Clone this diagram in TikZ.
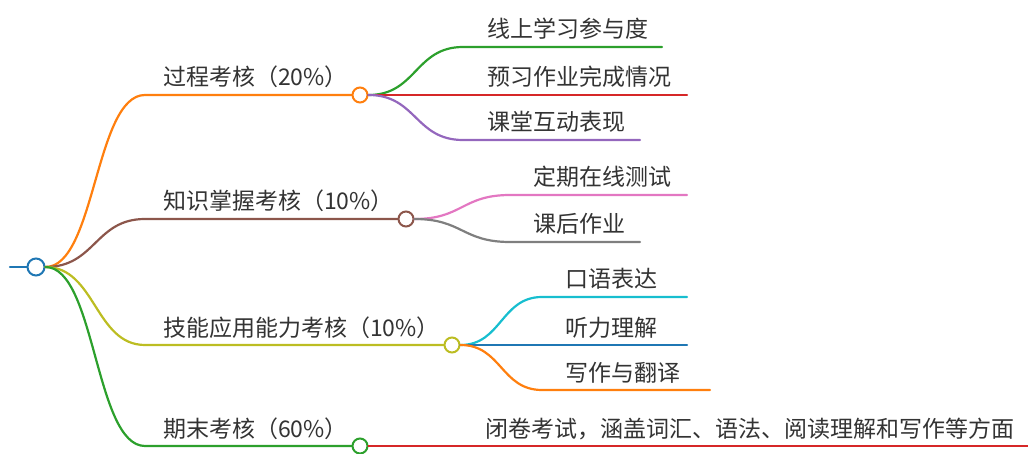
\documentclass[tikz,border=0pt]{standalone}
\usepackage{fontspec}
\usepackage{xcolor}
\usepackage{tikz}
\usetikzlibrary{calc}
\newfontfamily\cjk{Noto Sans CJK SC}

\definecolor{cBlue}{HTML}{1F77B4}
\definecolor{cOrange}{HTML}{FF7F0E}
\definecolor{cGreen}{HTML}{2CA02C}
\definecolor{cRed}{HTML}{D62728}
\definecolor{cPurple}{HTML}{9467BD}
\definecolor{cBrown}{HTML}{8C564B}
\definecolor{cPink}{HTML}{E377C2}
\definecolor{cGray}{HTML}{7F7F7F}
\definecolor{cOlive}{HTML}{BCBD22}
\definecolor{cCyan}{HTML}{17BECF}
\definecolor{txt}{HTML}{333333}

\begin{document}
\begin{tikzpicture}[
  x=1pt, y=-1pt,
  every node/.style={font=\cjk\fontsize{23}{28}\selectfont},
  link/.style={line width=2.2pt, line cap=round},
  dot/.style={circle, draw=#1, fill=white, line width=2pt, minimum size=15pt, inner sep=0pt},
  lbl/.style={anchor=base west, inner sep=0pt, text=txt}
]
\useasboundingbox (0,0) rectangle (1028,454);

% Root
\coordinate (r0) at (10,267);
\node[dot=cBlue, minimum size=17pt] (r) at (36,267) {};
\draw[link, cBlue] (r0) -- (r);

% Main branches
\node[dot=cOrange] (b1) at (360,95) {};
\node[dot=cBrown]  (b2) at (406,219) {};
\node[dot=cOlive]  (b3) at (452,345) {};
\node[dot=cGreen]  (b4) at (360,446) {};

\coordinate (k1) at (145,95);
\coordinate (k2) at (145,219);
\coordinate (k3) at (145,345);
\coordinate (k4) at (145,446);

\draw[link, cOrange] (r.east) .. controls +(50,0) and +(-50,0) .. (k1) -- (b1);
\draw[link, cBrown]  (r.east) .. controls +(50,0) and +(-50,0) .. (k2) -- (b2);
\draw[link, cOlive]  (r.east) .. controls +(50,0) and +(-50,0) .. (k3) -- (b3);
\draw[link, cGreen]  (r.east) .. controls +(50,0) and +(-50,0) .. (k4) -- (b4);

\node[lbl] (l1) at (163,86)  {过程考核（20\%）};
\node[lbl] (l2) at (163,210) {知识掌握考核（10\%）};
\node[lbl] (l3) at (163,336) {技能应用能力考核（10\%）};
\node[lbl] (l4) at (163,437) {期末考核（60\%）};

% Process assessment
\coordinate (k11) at (463,47);  \coordinate (e11) at (662,47);
\coordinate (k12) at (463,95);  \coordinate (e12) at (687,95);
\coordinate (k13) at (463,140); \coordinate (e13) at (640,140);
\draw[link, cGreen]  (b1.east) .. controls +(48,0) and +(-48,0) .. (k11) -- (e11);
\draw[link, cRed]    (b1.east) -- (e12);
\draw[link, cPurple] (b1.east) .. controls +(48,0) and +(-48,0) .. (k13) -- (e13);
\node[lbl] (t11) at (487,38)  {线上学习参与度};
\node[lbl] (t12) at (487,86)  {预习作业完成情况};
\node[lbl] (t13) at (487,131) {课堂互动表现};

% Knowledge assessment
\coordinate (k21) at (510,195); \coordinate (e21) at (687,195);
\coordinate (k22) at (510,242); \coordinate (e22) at (640,242);
\draw[link, cPink] (b2.east) .. controls +(48,0) and +(-48,0) .. (k21) -- (e21);
\draw[link, cGray] (b2.east) .. controls +(48,0) and +(-48,0) .. (k22) -- (e22);
\node[lbl] (t21) at (533,186) {定期在线测试};
\node[lbl] (t22) at (533,233) {课后作业};

% Skill assessment
\coordinate (k31) at (542,297); \coordinate (e31) at (687,297);
\coordinate (e32) at (687,345);
\coordinate (k33) at (542,390); \coordinate (e33) at (710,390);
\draw[link, cCyan]   (b3.east) .. controls +(41,0) and +(-41,0) .. (k31) -- (e31);
\draw[link, cBlue]   (b3.east) -- (e32);
\draw[link, cOrange] (b3.east) .. controls +(41,0) and +(-41,0) .. (k33) -- (e33);
\node[lbl] (t31) at (565,288) {口语表达};
\node[lbl] (t32) at (565,336) {听力理解};
\node[lbl] (t33) at (565,381) {写作与翻译};

% Final exam
\coordinate (e41) at (1028,446);
\draw[link, cRed] (b4.east) -- (e41);
\node[lbl] (t41) at (485,437) {闭卷考试，涵盖词汇、语法、阅读理解和写作等方面};

\end{tikzpicture}
\end{document}
